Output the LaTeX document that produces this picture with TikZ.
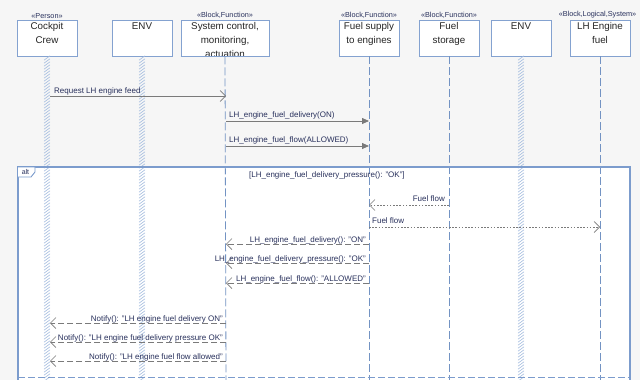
\documentclass[tikz,border=0pt]{standalone}
\usepackage{fontspec}
\setmainfont{Liberation Sans}
\usetikzlibrary{arrows.meta}
\definecolor{bgc}{HTML}{F6F6F6}
\definecolor{boxc}{HTML}{84A2D0}
\definecolor{lifec}{HTML}{7393C3}
\definecolor{hatchc}{HTML}{A4BCDF}
\definecolor{framec}{HTML}{7C9CCD}
\definecolor{msgc}{HTML}{7A7A7A}
\definecolor{txtc}{HTML}{28305C}
\newcommand\hatchlife[1]{\foreach \yy in {58,61,...,380}{\draw[hatchc,line width=0.6pt] (#1-3,\yy+2.2) -- (#1+3,\yy-2.2);}}
\begin{document}
\begin{tikzpicture}[x=1pt,y=-1pt,
  headbox/.style={draw=boxc,line width=0.9pt,fill=white,minimum width=60pt,minimum height=36pt,inner sep=0pt},
  headtxt/.style={anchor=north,align=center,font=\fontsize{9.8}{14}\selectfont,inner sep=0pt,text=black!85},
  stereo/.style={anchor=south,font=\fontsize{7.3}{8}\selectfont,inner sep=0pt,text=txtc,yshift=1.2pt},
  life/.style={draw=lifec,line width=0.8pt,dash pattern=on 8pt off 3pt},
  msglbl/.style={font=\fontsize{8}{9}\selectfont,inner sep=0pt,text=txtc},
  sync/.style={draw=msgc,line width=0.8pt,-{Triangle[length=7pt,width=6pt,fill=msgc]}},
  async/.style={draw=msgc,line width=0.7pt,-{Straight Barb[length=5.5pt,width=11pt,line width=0.7pt]}},
  reply/.style={draw=msgc,line width=0.7pt,dash pattern=on 6pt off 3pt,-{Straight Barb[length=5.5pt,width=11pt,line width=0.7pt]}},
  flow/.style={draw=msgc,line width=0.8pt,dash pattern=on 1.6pt off 1.6pt,-{Straight Barb[length=5.5pt,width=11pt,line width=0.7pt]}}
]
\useasboundingbox[fill=bgc] (0,0) rectangle (640,380);
% alt frame
\fill[white] (18,167) rectangle (630,400);
% heads
\node[headbox] (cc) at (47,38) {};
\node[headbox] (env1) at (142,38) {};
\node[headbox,minimum width=88pt] (sc) at (225,38) {};
\node[headbox] (fs) at (369,38) {};
\node[headbox] (st) at (449,38) {};
\node[headbox] (env2) at (521,38) {};
\node[headbox] (lh) at (600,38) {};
\node[headtxt] at ([yshift=-3pt]cc.north) {Cockpit\\Crew};
\node[headtxt] at ([yshift=-3pt]env1.north) {ENV};
\begin{scope}
\clip (sc.north west) rectangle (sc.south east);
\node[headtxt] at ([yshift=-3pt]sc.north) {System control,\\monitoring,\\actuation};
\end{scope}
\draw[boxc,line width=0.9pt] (sc.south west) -- (sc.south east);
\node[headtxt] at ([yshift=-3pt]fs.north) {Fuel supply\\to engines};
\node[headtxt] at ([yshift=-3pt]st.north) {Fuel\\storage};
\node[headtxt] at ([yshift=-3pt]env2.north) {ENV};
\node[headtxt] at ([yshift=-3pt]lh.north) {LH Engine\\fuel};
\node[stereo] at (cc.north) {«Person»};
\node[stereo] at (sc.north) {«Block,Function»};
\node[stereo] at (fs.north) {«Block,Function»};
\node[stereo] at (st.north) {«Block,Function»};
\node[stereo,anchor=south west] at ([xshift=-11pt]lh.north west) {«Block,Logical,System»};
% lifelines
\coordinate (scend) at (226,380);
\coordinate (fsend) at (369,380);
\coordinate (stend) at (449,380);
\coordinate (lhend) at (600,380);
\draw[life] (sc.south) -- (scend);
\draw[life] (fs.south) -- (fsend);
\draw[life] (st.south) -- (stend);
\draw[life] (lh.south) -- (lhend);
\hatchlife{47}
\hatchlife{142}
\hatchlife{521}
% frame border
\draw[framec,line width=1.6pt] (18,400) -- (18,167) -- (630,167) -- (630,400);
\draw[framec,line width=0.9pt,fill=white] (18,167) -- (35,167) -- (35,172) -- (31,177) -- (18,177);
\node[font=\fontsize{7}{8}\selectfont,text=txtc,inner sep=0pt] (altl) at (25.5,171.5) {alt};
\draw[framec,line width=0.9pt,dash pattern=on 7pt off 3pt] (18,377) -- (630,377);
\node[msglbl,anchor=west] (guard) at (249,175) {[LH\_engine\_fuel\_delivery\_pressure(): "OK"]};
% message points
\coordinate (a1) at (50,96);  \coordinate (b1) at (226,96);
\coordinate (a2) at (226,121); \coordinate (b2) at (369,121);
\coordinate (a3) at (226,146); \coordinate (b3) at (369,146);
\coordinate (a4) at (449,205); \coordinate (b4) at (369,205);
\coordinate (a5) at (369,227); \coordinate (b5) at (600,227);
\coordinate (a6) at (369,244); \coordinate (b6) at (226,244);
\coordinate (a7) at (369,263); \coordinate (b7) at (226,263);
\coordinate (a8) at (369,283); \coordinate (b8) at (226,283);
\coordinate (a9) at (226,323); \coordinate (b9) at (50,323);
\coordinate (a10) at (226,342); \coordinate (b10) at (50,342);
\coordinate (a11) at (226,361); \coordinate (b11) at (50,361);
\draw[async] (a1) -- (b1);
\draw[sync] (a2) -- (b2);
\draw[sync] (a3) -- (b3);
\draw[flow] (a4) -- (b4);
\draw[flow] (a5) -- (b5);
\draw[reply] (a6) -- (b6);
\draw[reply] (a7) -- (b7);
\draw[reply] (a8) -- (b8);
\draw[reply] (a9) -- (b9);
\draw[reply] (a10) -- (b10);
\draw[reply] (a11) -- (b11);
% labels
\node[msglbl,anchor=base west] at ([xshift=4pt,yshift=3pt]a1) {Request LH engine feed};
\node[msglbl,anchor=base west] at ([xshift=3pt,yshift=3.5pt]a2) {LH\_engine\_fuel\_delivery(ON)};
\node[msglbl,anchor=base west] at ([xshift=3pt,yshift=3.5pt]a3) {LH\_engine\_fuel\_flow(ALLOWED)};
\node[msglbl,anchor=base east] at ([xshift=-4pt,yshift=3.5pt]a4) {Fuel flow};
\node[msglbl,anchor=base west] at ([xshift=3pt,yshift=3.5pt]a5) {Fuel flow};
\node[msglbl,anchor=base east] at ([xshift=-3pt,yshift=1.5pt]a6) {LH\_engine\_fuel\_delivery(): "ON"};
\node[msglbl,anchor=base east] at ([xshift=-3pt,yshift=1.5pt]a7) {LH\_engine\_fuel\_delivery\_pressure(): "OK"};
\node[msglbl,anchor=base east] at ([xshift=-3pt,yshift=1.5pt]a8) {LH\_engine\_fuel\_flow(): "ALLOWED"};
\node[msglbl,anchor=base east] at ([xshift=-3pt,yshift=1.5pt]a9) {Notify(): "LH engine fuel delivery ON"};
\node[msglbl,anchor=base east] at ([xshift=-3pt,yshift=1.5pt]a10) {Notify(): "LH engine fuel delivery pressure OK"};
\node[msglbl,anchor=base east] at ([xshift=-3pt,yshift=1.5pt]a11) {Notify(): "LH engine fuel flow allowed"};
\end{tikzpicture}
\end{document}
